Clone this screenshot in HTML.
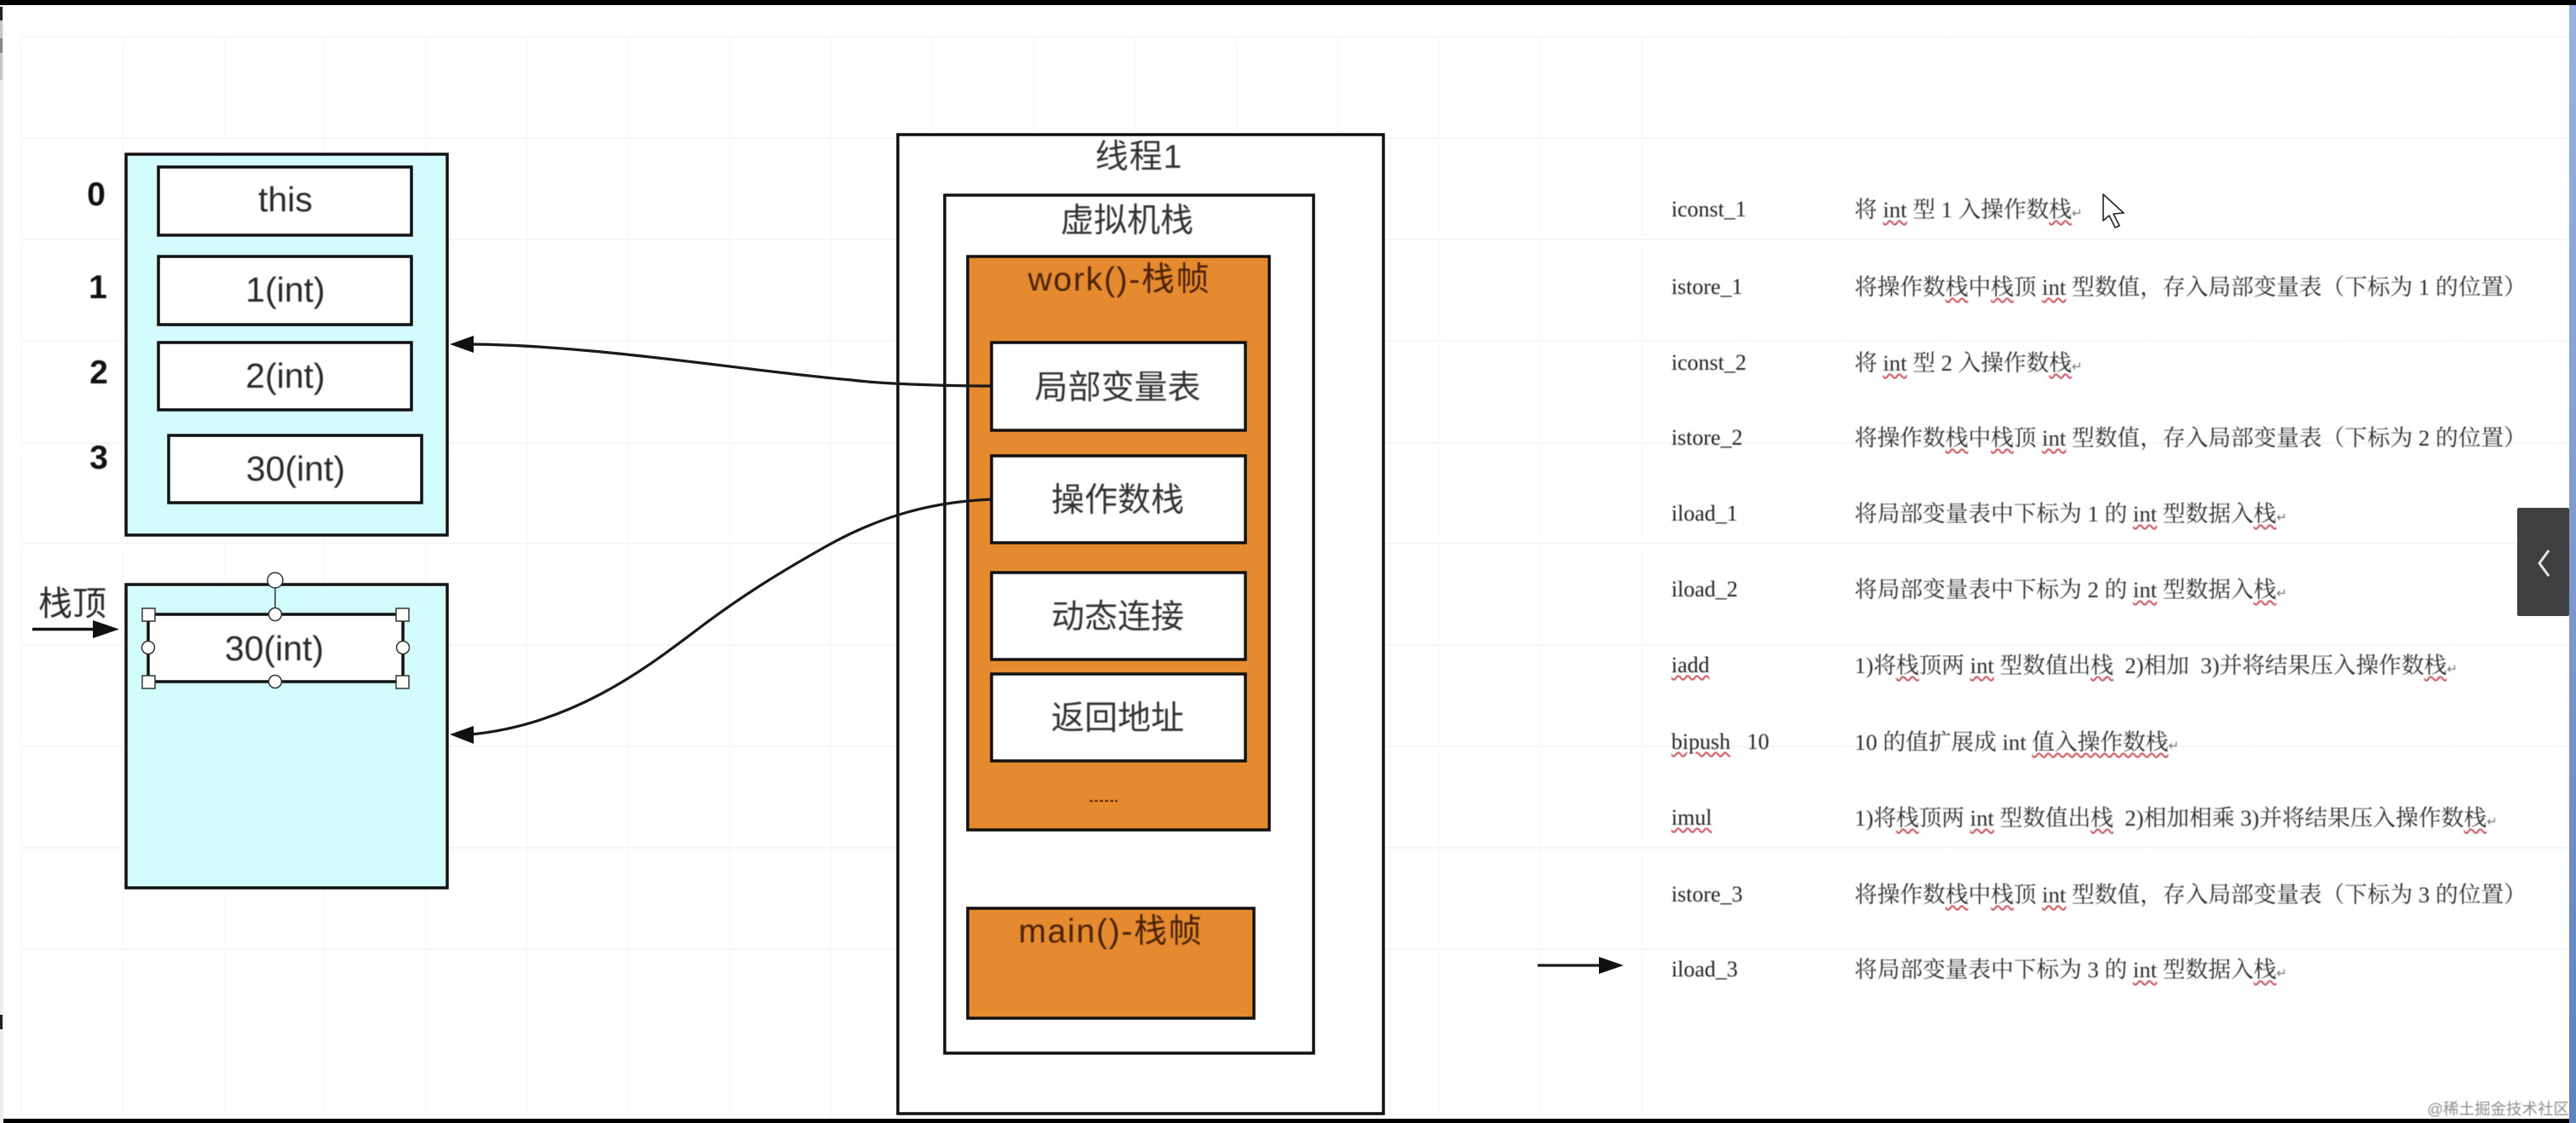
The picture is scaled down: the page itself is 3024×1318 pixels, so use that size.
<!DOCTYPE html>
<html lang="zh">
<head>
<meta charset="utf-8">
<title>diagram</title>
<style>
html,body{margin:0;padding:0;background:#fff;}
#p{position:relative;width:3024px;height:1318px;overflow:hidden;background:#fff;}
svg{position:absolute;left:0;top:0;}
.t{filter:blur(.5px);}
.r{position:absolute;white-space:pre;line-height:40px;height:40px;font-family:"Liberation Serif","Noto Serif CJK SC",serif;font-size:26.7px;color:#2c2c2c;filter:blur(.45px);}
.l{left:1962px;font-size:26px;color:#222;}
.d{left:2177px;}
u{text-decoration:underline wavy #c8505a 1.5px;text-underline-offset:3px;}
i{font-style:normal;font-size:15px;color:#777;font-family:"DejaVu Sans",sans-serif;}
</style>
</head>
<body>
<div id="p">
<svg width="3024" height="1318" viewBox="0 0 3024 1318" xmlns="http://www.w3.org/2000/svg">
  <!-- grid -->
  <g stroke="#f4f4f4" stroke-width="1.5" fill="none">
    <path d="M25 43H3016M25 162H3016M25 281H3016M25 400H3016M25 520H3016M25 638H3016M25 757H3016M25 876H3016M25 995H3016M25 1114H3016"/>
  </g>
  <g stroke="#f8f8f8" stroke-width="1.5" fill="none">
    <path d="M25 43V1312M144 43V1312M263 43V1312M381 43V1312M500 43V1312M619 43V1312M738 43V1312M857 43V1312M976 43V1312M1095 43V1312M1214 43V1312M1333 43V1312M1452 43V1312M1571 43V1312M1690 43V1312M1809 43V1312M1928 43V1312"/>
  </g>
  <g stroke="#fcfcfc" stroke-width="1.5" fill="none">
    <path d="M2047 43V1312M2166 43V1312M2285 43V1312M2404 43V1312M2523 43V1312M2642 43V1312M2761 43V1312M2880 43V1312M2999 43V1312"/>
  </g>
  <!-- frame -->
  <rect x="0" y="0" width="3024" height="6" fill="#000"/>
  <rect x="4" y="1313" width="3012" height="5" fill="#000"/>
  <rect x="0" y="6" width="4" height="1312" fill="#eeeeee"/>
  <rect x="0" y="24" width="3" height="70" fill="#c8c8c8"/>
  <rect x="0" y="45" width="3" height="17" fill="#888"/>
  <rect x="0" y="8" width="3" height="16" fill="#222"/>
  <rect x="0" y="1191" width="3" height="17" fill="#222"/>
  <defs>
    <linearGradient id="bl" x1="0" y1="0" x2="0" y2="1">
      <stop offset="0" stop-color="#9ab2de"/><stop offset="1" stop-color="#5f82bc"/>
    </linearGradient>
  </defs>
  <rect x="3016" y="6" width="8" height="1312" fill="url(#bl)"/>
  <!-- side panel -->
  <rect x="2955" y="596" width="61" height="127" rx="2" fill="#3d3f41"/>
  <path d="M2992 646L2981 661L2992 676" fill="none" stroke="#e4e4e4" stroke-width="3"/>

  <!-- left tables -->
  <g stroke="#111" stroke-width="3.5">
    <rect x="148" y="181" width="377" height="447" fill="#d3fdfd"/>
    <rect x="186" y="196" width="297" height="80" fill="#fff"/>
    <rect x="186" y="301" width="297" height="80" fill="#fff"/>
    <rect x="186" y="402" width="297" height="79" fill="#fff"/>
    <rect x="198" y="511" width="297" height="79" fill="#fff"/>
    <rect x="148" y="686" width="377" height="356" fill="#d3fdfd"/>
    <rect x="174" y="721" width="299" height="79" fill="#fff"/>
  </g>
  <g class="t" font-family="'Liberation Sans','Noto Sans CJK SC',sans-serif" font-size="41" fill="#2a2a2a" text-anchor="middle">
    <text x="335" y="248">this</text>
    <text x="335" y="354">1(int)</text>
    <text x="335" y="455">2(int)</text>
    <text x="347" y="564">30(int)</text>
    <text x="322" y="775">30(int)</text>
  </g>
  <g class="t" font-family="'Liberation Sans',sans-serif" font-size="39" font-weight="bold" fill="#111" text-anchor="middle">
    <text x="113" y="241">0</text>
    <text x="115" y="350">1</text>
    <text x="116" y="450">2</text>
    <text x="116" y="550">3</text>
  </g>
  <!-- selection handles -->
  <path d="M323 680V721" stroke="#333" stroke-width="1.5" fill="none"/>
  <g fill="#fff" stroke="#333" stroke-width="1.5">
    <circle cx="323" cy="681" r="9"/>
    <circle cx="323" cy="721" r="7.5"/>
    <circle cx="323" cy="800" r="7.5"/>
    <circle cx="174" cy="760" r="7.5"/>
    <circle cx="473" cy="760" r="7.5"/>
    <rect x="167" y="714" width="15" height="15"/>
    <rect x="465" y="714" width="15" height="15"/>
    <rect x="167" y="793" width="15" height="15"/>
    <rect x="465" y="793" width="15" height="15"/>
  </g>
  <!-- stack top -->
  <text class="t" x="85" y="722" font-family="'Liberation Sans','Noto Sans CJK SC',sans-serif" font-size="40" fill="#2a2a2a" text-anchor="middle">栈顶</text>
  <path d="M38 738.5H112" stroke="#111" stroke-width="3.5"/>
  <polygon points="140,738.5 109,728 109,749" fill="#111"/>

  <!-- thread -->
  <g stroke="#111" stroke-width="3.5">
    <rect x="1054" y="158" width="570" height="1149" fill="#fff"/>
    <rect x="1109" y="229" width="433" height="1007" fill="#fff"/>
    <rect x="1136" y="301" width="354" height="673" fill="#e58a2f"/>
    <rect x="1164" y="402" width="298" height="103" fill="#fff"/>
    <rect x="1164" y="535" width="298" height="102" fill="#fff"/>
    <rect x="1164" y="672" width="298" height="102" fill="#fff"/>
    <rect x="1164" y="791" width="298" height="102" fill="#fff"/>
    <rect x="1136" y="1066" width="336" height="129" fill="#e58a2f"/>
  </g>
  <g class="t" font-family="'Liberation Sans','Noto Sans CJK SC',sans-serif" font-size="39" fill="#333" text-anchor="middle">
    <text x="1337" y="197" letter-spacing="1">线程1</text>
    <text x="1323" y="272">虚拟机栈</text>
    <text x="1312" y="468">局部变量表</text>
    <text x="1312" y="600">操作数栈</text>
    <text x="1312" y="737">动态连接</text>
    <text x="1312" y="856">返回地址</text>
  </g>
  <g class="t" font-family="'Liberation Sans','Noto Sans CJK SC',sans-serif" font-size="39" fill="#4a2208" text-anchor="middle" letter-spacing="1.7">
    <text x="1314" y="341">work()-栈帧</text>
    <text x="1304" y="1106">main()-栈帧</text>
  </g>
  <path d="M1279 940H1312" stroke="#7a3a10" stroke-width="2.5" stroke-dasharray="4 2" fill="none"/>

  <!-- connectors -->
  <g fill="none" stroke="#1a1a1a" stroke-width="3.2">
    <path d="M1164 453C1100 453 1030 450 1000 446C880 436 700 405 552 404"/>
    <path d="M1164 586C1095 589 1035 605 972 640C915 672 875 697 829 731C770 775 680 850 552 862"/>
    <path d="M1805 1133H1880"/>
  </g>
  <g fill="#111">
    <polygon points="528,404 556,394 556,414"/>
    <polygon points="528,862 556,852 556,873"/>
    <polygon points="1906,1133 1877,1123 1877,1143"/>
  </g>

  <!-- cursor -->
  <path d="M2469 228L2469 259L2476 253L2483 267L2488 265L2481 251L2493 250Z" fill="#fff" stroke="#222" stroke-width="1.6" stroke-linejoin="round"/>

  <text class="t" x="3016" y="1308" font-family="'Liberation Sans','Noto Sans CJK SC',sans-serif" font-size="18.5" fill="#8e8e8e" text-anchor="end">@稀土掘金技术社区</text>
</svg>

<div class="r l" style="top:226px">iconst_1</div>
<div class="r d" style="top:226px">将 <u>int</u> 型 1 入操作数<u>栈</u><i>↵</i></div>
<div class="r l" style="top:317px">istore_1</div>
<div class="r d" style="top:317px">将操作数<u>栈</u>中<u>栈</u>顶 <u>int</u> 型数值，存入局部变量表（下标为 1 的位置）</div>
<div class="r l" style="top:406px">iconst_2</div>
<div class="r d" style="top:406px">将 <u>int</u> 型 2 入操作数<u>栈</u><i>↵</i></div>
<div class="r l" style="top:494px">istore_2</div>
<div class="r d" style="top:494px">将操作数<u>栈</u>中<u>栈</u>顶 <u>int</u> 型数值，存入局部变量表（下标为 2 的位置）</div>
<div class="r l" style="top:583px">iload_1</div>
<div class="r d" style="top:583px">将局部变量表中下标为 1 的 <u>int</u> 型数据入<u>栈</u><i>↵</i></div>
<div class="r l" style="top:672px">iload_2</div>
<div class="r d" style="top:672px">将局部变量表中下标为 2 的 <u>int</u> 型数据入<u>栈</u><i>↵</i></div>
<div class="r l" style="top:761px"><u>iadd</u></div>
<div class="r d" style="top:761px">1)将<u>栈</u>顶两 <u>int</u> 型数值出<u>栈</u>  2)相加  3)并将结果压入操作数<u>栈</u><i>↵</i></div>
<div class="r l" style="top:851px"><u>bipush</u>   10</div>
<div class="r d" style="top:851px">10 的值扩展成 int <u>值入操作数栈</u><i>↵</i></div>
<div class="r l" style="top:940px"><u>imul</u></div>
<div class="r d" style="top:940px">1)将<u>栈</u>顶两 <u>int</u> 型数值出<u>栈</u>  2)相加相乘 3)并将结果压入操作数<u>栈</u><i>↵</i></div>
<div class="r l" style="top:1030px">istore_3</div>
<div class="r d" style="top:1030px">将操作数<u>栈</u>中<u>栈</u>顶 <u>int</u> 型数值，存入局部变量表（下标为 3 的位置）</div>
<div class="r l" style="top:1118px">iload_3</div>
<div class="r d" style="top:1118px">将局部变量表中下标为 3 的 <u>int</u> 型数据入<u>栈</u><i>↵</i></div>
</div>
</body>
</html>
